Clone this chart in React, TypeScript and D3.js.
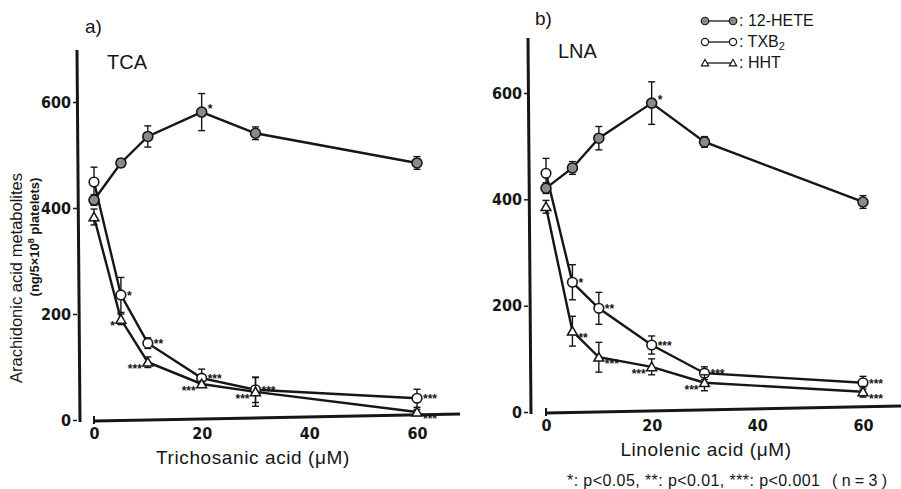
import React, { useEffect, useRef } from 'react';
import * as d3 from 'd3';

// concentrations (µM)
const doses = [0, 5, 10, 20, 30, 60];
const yTicks = [0, 200, 400, 600];
const xTicks = [0, 20, 40, 60];

// a) trichosanic acid
const tcaHete = [415, 485, 535, 581, 541, 485];
const tcaHeteErr = [10, 8, 20, 35, 12, 12];
const tcaTxb2 = [449, 236, 145, 79, 57, 41];
const tcaTxb2Err = [28, 33, 10, 17, 24, 17];
const tcaHht = [383, 190, 109, 68, 53, 15];
const tcaHhtErr = [15, 10, 10, 5, 27, 5];
const tcaHeteStars = ['', '', '', '*', '', ''];
const tcaTxb2Stars = ['', '*', '**', '***', '***', '***'];
const tcaHhtStars = ['', '*', '***', '***', '***', '***'];
const tcaHhtSide = ['', 'L', 'L', 'L', 'L', 'R'];

// b) linolenic acid
const lnaHete = [421, 459, 515, 581, 508, 395];
const lnaHeteErr = [10, 12, 22, 40, 10, 12];
const lnaTxb2 = [449, 244, 195, 126, 73, 55];
const lnaTxb2Err = [28, 33, 30, 17, 12, 12];
const lnaHht = [386, 152, 103, 85, 55, 38];
const lnaHhtErr = [12, 28, 28, 15, 15, 10];
const lnaHeteStars = ['', '', '', '*', '', ''];
const lnaTxb2Stars = ['', '*', '**', '***', '***', '***'];
const lnaHhtStars = ['', '**', '***', '***', '***', '***'];
const lnaHhtSide = ['', 'R', 'R', 'L', 'L', 'R'];

const INK = '#161616';
const TICK_FONT = '"DejaVu Sans Condensed", "Liberation Sans Narrow", "Liberation Sans", sans-serif';
const TEXT_FONT = '"Liberation Sans", Arial, sans-serif';

type Series = { vals: number[]; err: number[]; kind: 'hete' | 'txb2' | 'hht'; stars: string[]; side?: string[] };

function drawMarker(g: any, kind: string, x: number, y: number) {
  if (kind === 'hht') {
    g.append('path')
      .attr('d', d3.symbol(d3.symbolTriangle, 42)())
      .attr('transform', `translate(${x},${y + 1})`)
      .attr('fill', '#fff').attr('stroke', INK).attr('stroke-width', 1.5);
  } else {
    g.append('circle')
      .attr('cx', x).attr('cy', y).attr('r', kind === 'hete' ? 5 : 4.8)
      .attr('fill', kind === 'hete' ? '#8a8a8a' : '#fff')
      .attr('stroke', INK).attr('stroke-width', 1.6);
  }
}

function drawPanel(svg: any, cfg: any) {
  const x = d3.scaleLinear().domain([0, 60]).range(cfg.xr);
  const y = d3.scaleLinear().domain([0, 600]).range(cfg.yr);
  const g = svg.append('g');

  // y axis
  g.append('line').attr('x1', cfg.yAxisX).attr('x2', cfg.yAxisX + 3)
    .attr('y1', cfg.yTop).attr('y2', y(0) + 2)
    .attr('stroke', INK).attr('stroke-width', 3);
  const ya = g.append('g').attr('transform', `translate(${cfg.yAxisX},0)`)
    .call(d3.axisLeft(y).tickValues(yTicks).tickSize(4).tickPadding(2).tickFormat(d3.format('d')));
  ya.select('.domain').remove();
  ya.selectAll('line').attr('stroke', INK).attr('stroke-width', 1.5);
  ya.selectAll('text').attr('font-family', TICK_FONT).attr('font-weight', 'bold')
    .attr('font-size', 16).attr('fill', INK);

  // x axis
  g.append('line').attr('x1', x(0)).attr('x2', x(cfg.xEnd))
    .attr('y1', y(0) + 1).attr('y2', y(0) - 6)
    .attr('stroke', INK).attr('stroke-width', 3);
  g.append('line').attr('x1', x(0)).attr('x2', x(0))
    .attr('y1', y(0) - 4).attr('y2', y(0) + 4)
    .attr('stroke', INK).attr('stroke-width', 2);
  const xa = g.append('g').attr('transform', `translate(0,${y(0) + 4})`)
    .call(d3.axisBottom(x).tickValues(xTicks).tickSize(0).tickPadding(4).tickFormat(d3.format('d')));
  xa.select('.domain').remove();
  xa.selectAll('text').attr('font-family', TICK_FONT).attr('font-weight', 'bold')
    .attr('font-size', 16).attr('fill', INK);

  g.append('text').attr('x', cfg.xTitleX).attr('y', y(0) + 44)
    .attr('text-anchor', 'middle').attr('font-family', TEXT_FONT).attr('font-size', 19)
    .attr('letter-spacing', 0.6).attr('fill', INK).text(cfg.xTitle);

  // panel labels
  g.append('text').attr('x', cfg.tag[0]).attr('y', cfg.tag[1])
    .attr('font-family', TEXT_FONT).attr('font-size', 19).attr('fill', INK).text(cfg.tagText);
  g.append('text').attr('x', cfg.name[0]).attr('y', cfg.name[1])
    .attr('font-family', TEXT_FONT).attr('font-size', 20).attr('fill', INK).text(cfg.nameText);

  const line = d3.line<number>().x((d, i) => x(doses[i])).y(d => y(d));

  cfg.series.forEach((s: Series) => {
    g.append('path').datum(s.vals).attr('d', line)
      .attr('fill', 'none').attr('stroke', INK).attr('stroke-width', 2.4);
  });

  cfg.series.forEach((s: Series) => {
    s.vals.forEach((v, i) => {
      const cx = x(doses[i]);
      const e = s.err[i];
      g.append('line').attr('x1', cx).attr('x2', cx).attr('y1', y(v + e)).attr('y2', y(v - e))
        .attr('stroke', INK).attr('stroke-width', 1.4);
      [v + e, v - e].forEach(t => {
        g.append('line').attr('x1', cx - 3.5).attr('x2', cx + 3.5).attr('y1', y(t)).attr('y2', y(t))
          .attr('stroke', INK).attr('stroke-width', 1.4);
      });
      drawMarker(g, s.kind, cx, y(v));
      const st = s.stars[i];
      if (st) {
        const left = s.side && s.side[i] === 'L';
        const up = s.kind === 'hete';
        const dy = up ? 1 : s.kind === 'hht' ? 11 : 5;
        g.append('text')
          .attr('x', left ? cx - 6 : cx + 6)
          .attr('y', y(v) + dy)
          .attr('text-anchor', left ? 'end' : 'start')
          .attr('font-family', TEXT_FONT).attr('font-weight', 'bold').attr('font-size', 12)
          .attr('fill', INK).text(st);
      }
    });
  });
}

const App = () => {
  const ref = useRef<SVGSVGElement>(null);

  useEffect(() => {
    if (!ref.current) return;
    const svg = d3.select(ref.current);
    svg.selectAll('*').remove();

    drawPanel(svg, {
      xr: [94, 417], yr: [420, 102], yAxisX: 77, yTop: 50, xEnd: 68,
      xTitle: 'Trichosanic acid (\u03bcM)', xTitleX: 253,
      tag: [85, 33], tagText: 'a)', name: [107, 69], nameText: 'TCA',
      series: [
        { vals: tcaTxb2, err: tcaTxb2Err, kind: 'txb2', stars: tcaTxb2Stars },
        { vals: tcaHht, err: tcaHhtErr, kind: 'hht', stars: tcaHhtStars, side: tcaHhtSide },
        { vals: tcaHete, err: tcaHeteErr, kind: 'hete', stars: tcaHeteStars },
      ],
    });

    drawPanel(svg, {
      xr: [546, 863], yr: [412, 93], yAxisX: 528, yTop: 38, xEnd: 67.5,
      xTitle: 'Linolenic acid (\u03bcM)', xTitleX: 706,
      tag: [535, 25], tagText: 'b)', name: [558, 58], nameText: 'LNA',
      series: [
        { vals: lnaTxb2, err: lnaTxb2Err, kind: 'txb2', stars: lnaTxb2Stars },
        { vals: lnaHht, err: lnaHhtErr, kind: 'hht', stars: lnaHhtStars, side: lnaHhtSide },
        { vals: lnaHete, err: lnaHeteErr, kind: 'hete', stars: lnaHeteStars },
      ],
    });

    // y axis title (left panel)
    svg.append('text').attr('transform', 'translate(22,278) rotate(-90)')
      .attr('text-anchor', 'middle').attr('font-family', TEXT_FONT).attr('font-size', 16.5)
      .attr('fill', INK).text('Arachidonic acid metabolites');
    const sub = svg.append('text').attr('transform', 'translate(39,237) rotate(-90)')
      .attr('text-anchor', 'middle').attr('font-family', TEXT_FONT).attr('font-size', 13)
      .attr('font-weight', 'bold').attr('fill', INK);
    sub.append('tspan').text('(ng/5\u00d710');
    sub.append('tspan').attr('baseline-shift', 'super').attr('font-size', 9).text('8');
    sub.append('tspan').text(' platelets)');

    // legend
    const legend = [
      { kind: 'hete', label: ': 12-HETE' },
      { kind: 'txb2', label: ': TXB' },
      { kind: 'hht', label: ': HHT' },
    ];
    legend.forEach((l, i) => {
      const ly = 21 + i * 21;
      svg.append('line').attr('x1', 705).attr('x2', 733).attr('y1', ly).attr('y2', ly)
        .attr('stroke', INK).attr('stroke-width', 1.3);
      const lg = svg.append('g').attr('transform', 'scale(0.75)');
      drawMarker(lg, l.kind, 705 / 0.75, ly / 0.75);
      drawMarker(lg, l.kind, 733 / 0.75, ly / 0.75);
      const t = svg.append('text').attr('x', 739).attr('y', ly + 5)
        .attr('font-family', TEXT_FONT).attr('font-size', 16).attr('fill', INK).text(l.label);
      if (l.kind === 'txb2') {
        t.append('tspan').attr('font-size', 11).attr('dy', 3).text('2');
      }
    });

    // significance footnote
    svg.append('text').attr('x', 567).attr('y', 486)
      .attr('font-family', TEXT_FONT).attr('font-size', 16).attr('fill', INK)
      .attr('textLength', 253).attr('lengthAdjust', 'spacing')
      .text('*: p<0.05, **: p<0.01, ***: p<0.001');
    svg.append('text').attr('x', 832).attr('y', 486)
      .attr('font-family', TEXT_FONT).attr('font-size', 16).attr('fill', INK)
      .attr('textLength', 55).attr('lengthAdjust', 'spacing')
      .text('(n=3)');
  }, []);

  return (
    <svg ref={ref} width={901} height={489}
      style={{ position: 'absolute', left: 0, top: 0, background: '#fff' }} />
  );
};

export default App;
